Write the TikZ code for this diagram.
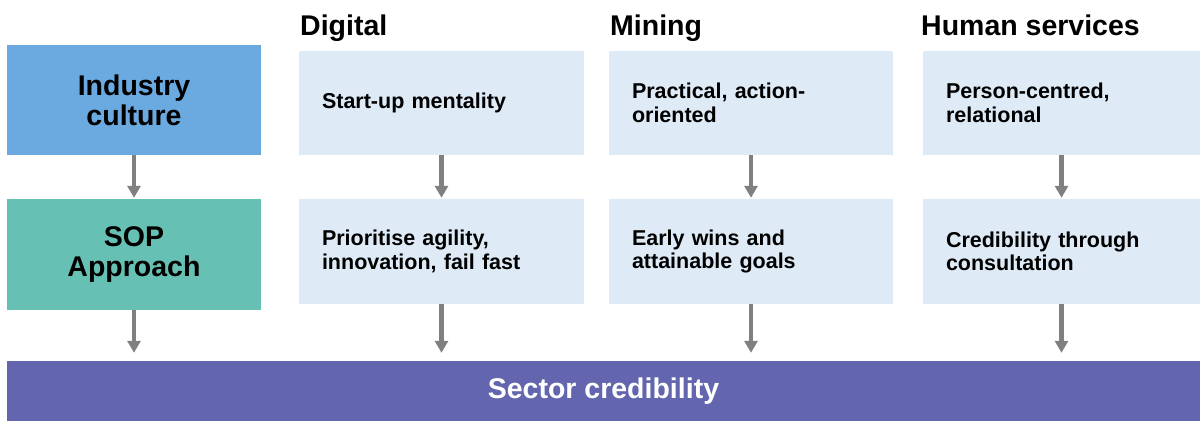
\documentclass[tikz,border=0pt]{standalone}
\usepackage{fontspec}
\setmainfont{Liberation Sans}
\usetikzlibrary{arrows.meta}
\definecolor{indblue}{RGB}{106,170,224}
\definecolor{sopteal}{RGB}{102,193,180}
\definecolor{lightbox}{RGB}{222,235,247}
\definecolor{barpurple}{RGB}{99,102,174}
\definecolor{arrgray}{RGB}{128,128,128}
\tikzset{
  x=1pt, y=-1pt,
  leftbox/.style={fill=#1, draw=none, minimum width=254pt, text width=240pt, align=center,
    inner sep=0pt, font=\bfseries\fontsize{28.5}{30}\selectfont},
  cellbox/.style={fill=lightbox, draw=none, inner xsep=23pt, inner ysep=0pt, align=left,
    font=\bfseries\fontsize{21.5}{23.5}\selectfont},
  header/.style={anchor=base west, inner sep=0pt, font=\bfseries\fontsize{28.5}{30}\selectfont},
  flow/.style={draw=arrgray, line width=4.5pt, -{Triangle[width=13pt,length=12pt]}},
}
\begin{document}
\begin{tikzpicture}
\useasboundingbox (0,0) rectangle (1202,423);
% left column
\node[leftbox=indblue, minimum height=110pt] (ind) at (134,100) {Industry\\culture};
\node[leftbox=sopteal, minimum height=111pt] (sop) at (134,254.5) {SOP\\Approach};
% headers
\node[header] (hdig) at (300,35) {Digital};
\node[header] (hmin) at (610,35) {Mining};
\node[header] (hhum) at (921,35) {Human services};
% cells
\node[cellbox, text width=239pt, minimum height=104pt] (d1) at (441.5,103) {Start-up mentality};
\node[cellbox, text width=239pt, minimum height=105pt] (d2) at (441.5,251.5) {Prioritise agility,\\innovation, fail fast};
\node[cellbox, text width=238pt, minimum height=104pt] (m1) at (751,103) {Practical, action-\\oriented};
\node[cellbox, text width=238pt, minimum height=105pt] (m2) at (751,251.5) {Early wins and\\attainable goals};
\node[cellbox, text width=231pt, minimum height=104pt] (h1) at (1061.5,103) {Person-centred,\\relational};
\node[cellbox, text width=231pt, minimum height=105pt] (h2) at (1061.5,251.5) {Credibility through\\consultation};
% bar
\node[fill=barpurple, minimum width=1193pt, minimum height=60pt, inner sep=0pt,
  text=white, font=\bfseries\fontsize{28.5}{30}\selectfont] (bar) at (603.5,391) {Sector credibility};
% arrows
\draw[flow, shorten >=1pt] (ind.south) -- (sop.north);
\draw[flow, shorten >=1pt] (d1.south) -- (d2.north);
\draw[flow, shorten >=1pt] (m1.south) -- (m2.north);
\draw[flow, shorten >=1pt] (h1.south) -- (h2.north);
\draw[flow, shorten >=8pt] (sop.south) -- (sop.south |- bar.north);
\draw[flow, shorten >=8pt] (d2.south) -- (d2.south |- bar.north);
\draw[flow, shorten >=8pt] (m2.south) -- (m2.south |- bar.north);
\draw[flow, shorten >=8pt] (h2.south) -- (h2.south |- bar.north);
\end{tikzpicture}
\end{document}
